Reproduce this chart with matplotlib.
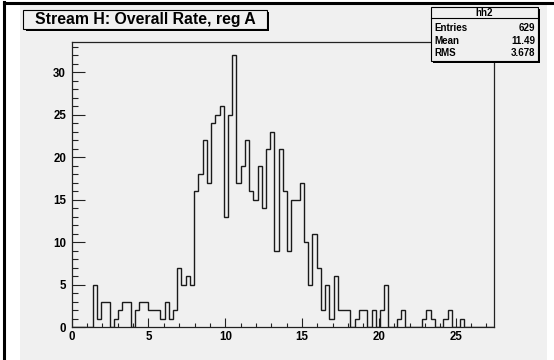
import matplotlib
matplotlib.use("Agg")
import matplotlib.pyplot as plt
from matplotlib.patches import Rectangle
from matplotlib.ticker import MultipleLocator
import numpy as np

# ---- data ----
title = "Stream H: Overall Rate, reg A"
hist_name = "hh2"
stat_labels = ["Entries", "Mean", "RMS"]
stat_values = ["629", "11.49", "3.678"]
x_min, x_max, n_bins = 0.0, 27.5, 100
counts = [0, 0, 0, 0, 0, 5, 1, 3, 3, 0,
          1, 2, 3, 3, 0, 2, 3, 3, 2, 2,
          2, 1, 3, 1, 2, 7, 5, 6, 5, 16,
          18, 22, 17, 24, 25, 26, 13, 25, 32, 17,
          19, 22, 16, 15, 19, 14, 21, 23, 9, 21,
          16, 9, 15, 15, 17, 10, 5, 11, 7, 2,
          5, 1, 6, 2, 2, 2, 0, 1, 2, 2,
          0, 2, 0, 2, 5, 0, 0, 1, 2, 0,
          0, 0, 0, 1, 2, 1, 0, 0, 1, 2,
          0, 0, 1, 0, 0, 0, 0, 0, 0, 0]
x_ticks = [0, 5, 10, 15, 20, 25]
y_ticks = [0, 5, 10, 15, 20, 25, 30]

W, H = 554, 360
GRAY = "#f0f0f0"
FONT = "Liberation Sans"

fig = plt.figure(figsize=(W / 100, H / 100), dpi=100)
fig.patch.set_facecolor("white")


def fx(x):
    return x / W


def fy(y):
    return 1 - y / H


def rect_px(x0, y0, x1, y1, **kw):
    r = Rectangle((fx(x0), fy(y1)), fx(x1) - fx(x0), fy(y0) - fy(y1),
                  transform=fig.transFigure, **kw)
    fig.patches.append(r)
    return r


# pad background and window borders
rect_px(20, 4, 547, 360, facecolor=GRAY, edgecolor="none", zorder=-5)
fig.add_artist(plt.Line2D([fx(4), fx(4)], [0, fy(2)], color="black", lw=2.2,
                          transform=fig.transFigure, zorder=-4))
fig.add_artist(plt.Line2D([fx(4), 1], [fy(2.5), fy(2.5)], color="black", lw=2.2,
                          transform=fig.transFigure, zorder=-4))

# frame
L, R, T, B = 71.7, 494, 41.7, 327.3
ax = fig.add_axes([fx(L), fy(B), fx(R) - fx(L), fy(T) - fy(B)])
ax.set_zorder(1)
ax.set_facecolor(GRAY)
edges = np.linspace(x_min, x_max, n_bins + 1)
ax.stairs(counts, edges, color="#1a1a1a", linewidth=1.0, baseline=0)
ax.set_xlim(x_min, x_max)
ax.set_ylim(0, max(counts) * 1.05)
for s in ax.spines.values():
    s.set_color("#222222")
    s.set_linewidth(0.9)

ax.set_xticks(x_ticks)
ax.set_yticks(y_ticks)
ax.xaxis.set_minor_locator(MultipleLocator(1))
ax.yaxis.set_minor_locator(MultipleLocator(1))
ax.tick_params(axis="x", which="major", direction="in", length=6.2, width=0.8,
               pad=3.0, color="#222222", top=False)
ax.tick_params(axis="x", which="minor", direction="in", length=3.1, width=0.8,
               color="#222222", top=False)
ax.tick_params(axis="y", which="major", direction="in", length=9.1, width=0.8,
               pad=4.0, color="#222222", right=False)
ax.tick_params(axis="y", which="minor", direction="in", length=4.5, width=0.8,
               color="#222222", right=False)
for lab in ax.get_xticklabels() + ax.get_yticklabels():
    lab.set_fontfamily(FONT)
    lab.set_fontweight("bold")
    lab.set_fontsize(8.3)

# title box with shadow
rect_px(25.5, 12.5, 269, 31, facecolor="black", edgecolor="none", zorder=5)
rect_px(23, 10, 266.5, 28.5, facecolor=GRAY, edgecolor="black", linewidth=0.8, zorder=6)
fig.text(fx(145.5), fy(19.5), title, ha="center", va="center", fontsize=11.4,
         fontfamily=FONT, fontweight="bold", zorder=7)

# stats box with shadow
rect_px(433, 9, 540, 63, facecolor="black", edgecolor="none", zorder=5)
rect_px(431, 7, 538, 61, facecolor=GRAY, edgecolor="black", linewidth=0.8, zorder=6)
fig.add_artist(plt.Line2D([fx(431), fx(538)], [fy(17.5), fy(17.5)], color="black",
                          lw=0.8, transform=fig.transFigure, zorder=7))
fig.text(fx(484.5), fy(12.5), hist_name, ha="center", va="center", fontsize=7,
         fontfamily=FONT, fontweight="bold", zorder=8)
for i, (lab, val) in enumerate(zip(stat_labels, stat_values)):
    yy = 28.3 + i * 12.6
    fig.text(fx(434), fy(yy), lab, ha="left", va="center", fontsize=7,
             fontfamily=FONT, fontweight="bold", zorder=8)
    fig.text(fx(535), fy(yy), val, ha="right", va="center", fontsize=7,
             fontfamily=FONT, fontweight="bold", zorder=8)

fig.savefig("out.png", dpi=100)
